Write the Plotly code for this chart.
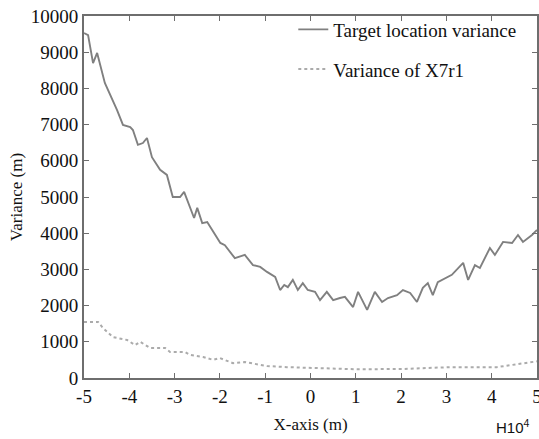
import plotly.graph_objects as go

# Target location variance
x_target = [-5.0, -4.91, -4.80, -4.71, -4.54, -4.49, -4.36, -4.27, -4.14, -3.98, -3.92, -3.81,
            -3.70, -3.61, -3.50, -3.32, -3.17, -3.04, -2.88, -2.79, -2.57, -2.50, -2.39, -2.28,
            -2.17, -1.99, -1.89, -1.67, -1.45, -1.27, -1.11, -0.96, -0.78, -0.67, -0.58, -0.50,
            -0.39, -0.28, -0.17, -0.06, 0.10, 0.21, 0.36, 0.50, 0.65, 0.76, 0.94, 1.05, 1.25,
            1.42, 1.58, 1.71, 1.91, 2.04, 2.20, 2.35, 2.48, 2.59, 2.70, 2.81, 3.12, 3.37, 3.48,
            3.63, 3.74, 3.96, 4.07, 4.25, 4.45, 4.58, 4.69, 4.89, 5.0]
y_target = [9530, 9470, 8700, 8980, 8150, 8010, 7680, 7400, 6990, 6930, 6850, 6440,
            6490, 6630, 6100, 5750, 5610, 5000, 5000, 5140, 4420, 4700, 4280, 4310,
            4090, 3730, 3670, 3310, 3400, 3120, 3070, 2930, 2790, 2430, 2570, 2510,
            2710, 2430, 2620, 2430, 2380, 2150, 2380, 2150, 2210, 2240, 1960, 2380, 1880,
            2380, 2100, 2210, 2290, 2430, 2350, 2100, 2490, 2620, 2290, 2650, 2850, 3180, 2710,
            3120, 3040, 3590, 3400, 3760, 3730, 3950, 3760, 3950, 4090]

# Variance of X7r1
x_var = [-5.0, -4.69, -4.58, -4.36, -4.05, -3.87, -3.76, -3.54, -3.21, -3.10, -2.77, -2.66,
         -2.37, -2.15, -2.0, -1.71, -1.45, -1.18, -0.96, -0.52, 0.05, 1.03, 2.04, 3.08, 4.11, 5.0]
y_var = [1550, 1550, 1380, 1130, 1050, 910, 1000, 830, 830, 720, 720, 640,
         580, 500, 550, 410, 440, 390, 330, 300, 280, 240, 250, 300, 300, 460]

x_ticks = [-5, -4, -3, -2, -1, 0, 1, 2, 3, 4, 5]
y_ticks = [0, 1000, 2000, 3000, 4000, 5000, 6000, 7000, 8000, 9000, 10000]

serif = "Liberation Serif"

fig = go.Figure()
fig.add_trace(go.Scatter(x=x_target, y=y_target, mode="lines", name="Target location variance",
                         legendgroup="a",
                         line=dict(color="#808080", width=1.9)))
fig.add_trace(go.Scatter(x=x_var, y=y_var, mode="lines", name="Variance of X7r1",
                         legendgroup="b",
                         line=dict(color="#ababab", width=2, dash="dot")))

axis_common = dict(showline=True, linecolor="#6e6e6e", linewidth=2, mirror="ticks",
                   ticks="inside", ticklen=5, tickcolor="#6e6e6e", showgrid=False,
                   zeroline=False, ticklabeloverflow="allow", automargin=False,
                   tickfont=dict(family=serif, size=19, color="#111"))

fig.update_layout(
    width=539, height=439,
    margin=dict(l=84, r=2, t=16, b=61),
    paper_bgcolor="white", plot_bgcolor="white",
    font=dict(family=serif, size=17, color="#111"),
    xaxis=dict(range=[-5, 5], tickvals=x_ticks, ticktext=[str(v) for v in x_ticks],
               title=dict(text="X-axis (m)", font=dict(family=serif, size=17), standoff=12),
               **axis_common),
    yaxis=dict(range=[0, 10000], tickvals=y_ticks, ticktext=[str(v) for v in y_ticks],
               title=dict(text="Variance (m)", font=dict(family=serif, size=17), standoff=4),
               **axis_common),
    legend=dict(x=0.462, y=1.015, xanchor="left", yanchor="top", bgcolor="rgba(0,0,0,0)",
                font=dict(family=serif, size=19), tracegroupgap=12),
    showlegend=True,
)

fig.add_annotation(text="H10<sup>4</sup>", xref="paper", yref="paper", x=0.99, y=-0.135,
                   xanchor="right", yanchor="middle", showarrow=False,
                   font=dict(family="Liberation Sans", size=15, color="#111"))

fig.write_html("out.html")
